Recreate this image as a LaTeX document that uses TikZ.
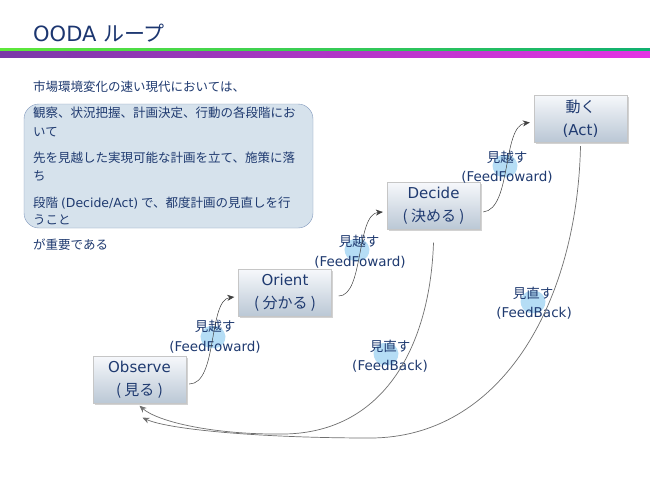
\documentclass[tikz,border=0pt]{standalone}
\usepackage{fontspec}
\setmainfont{DejaVu Sans}
\newfontfamily\jpf{Noto Sans CJK JP}
\newfontfamily\latf{DejaVu Sans}
\usetikzlibrary{shadows,arrows.meta}
\definecolor{txt}{HTML}{1F3A70}
\definecolor{ttl}{HTML}{1C3670}
\definecolor{boxfill}{HTML}{D6E2EC}
\definecolor{boxline}{HTML}{8098BC}
\definecolor{bluish}{HTML}{B5DDF5}
\definecolor{gA}{HTML}{5EE83A}
\definecolor{gB}{HTML}{10B070}
\definecolor{pA}{HTML}{7A38A8}
\definecolor{pB}{HTML}{E433E4}
\definecolor{ntop}{HTML}{F6F8FB}
\definecolor{nbot}{HTML}{BAC7D5}
\definecolor{cur}{HTML}{707070}
\tikzset{
  stepbox/.style={draw=gray!45, top color=ntop, bottom color=nbot, minimum width=93, minimum height=47,
    align=center, text=txt, font=\fontsize{15}{23}\selectfont, inner sep=0pt,
    drop shadow={opacity=0.35, shadow xshift=1.5pt, shadow yshift=-1.5pt}},
  bodytxt/.style={anchor=west, text=txt, font=\fontsize{12.5}{15}\jpf, inner sep=0pt},
  lbl/.style={text=txt, font=\fontsize{13.5}{16}\selectfont, inner sep=0pt},
  blobfill/.style={fill=bluish, rounded corners=5pt},
  ff/.style={draw=black!75, line width=0.5pt, -{Stealth[length=7pt,width=6pt]}},
  fb/.style={draw=cur, line width=0.7pt, -{Stealth[length=7pt,width=6pt]}}
}
\newcommand\blobat[1]{\fill[blobfill] (#1) ++(-14,-1) -- ++(7,-10) -- ++(14,0) -- ++(7,10) -- ++(-6,12) -- ++(-16,0) -- cycle;}
\begin{document}
\begin{tikzpicture}[x=1pt,y=-1pt]
\useasboundingbox[fill=white] (0,0) rectangle (650,487);
% header
\node[anchor=west, text=ttl, font=\fontsize{21}{24}\selectfont, inner sep=0pt] (title) at (33,33) {OODA {\jpf ループ}};
\shade[left color=gA, right color=gB] (0,49) rectangle (650,51.5);
\shade[left color=pA, right color=pB] (0,51.5) rectangle (650,57.3);
% text block
\node[bodytxt] (t0) at (33,87) {市場環境変化の速い現代においては、};
\node[draw=boxline, fill=boxfill, rounded corners=15pt, minimum width=289, minimum height=124, inner sep=0pt] (box) at (168.5,166) {};
\node[bodytxt] (t1) at (33,113) {観察、状況把握、計画決定、行動の各段階にお};
\node[bodytxt] (t2) at (33,132) {いて};
\node[bodytxt] (t3) at (33,158) {先を見越した実現可能な計画を立て、施策に落};
\node[bodytxt] (t4) at (33,176) {ち};
\node[bodytxt] (t5) at (33,203) {段階 {\latf (Decide/Act)} で、都度計画の見直しを行};
\node[bodytxt] (t6) at (33,220) {うこと};
\node[bodytxt] (t7) at (33,245) {が重要である};
% blobs
\blobat{213,337}
\blobat{357,250}
\blobat{505,166}
\blobat{386,354}
\blobat{533,302}
% step boxes
\node[stepbox] (obs) at (139.5,380) {Observe\\{\jpf ( 見る )}};
\node[stepbox] (ori) at (285,293) {Orient\\{\jpf ( 分かる )}};
\node[stepbox] (dec) at (433.5,206) {Decide\\{\jpf ( 決める )}};
\node[stepbox] (act) at (580.5,118.5) {{\jpf 動く}\\(Act)};
% labels
\node[lbl] (l1a) at (215,326) {\jpf 見越す};
\node[lbl] (l1b) at (215,347) {(FeedFoward)};
\node[lbl] (l2a) at (359,241) {\jpf 見越す};
\node[lbl] (l2b) at (360,262) {(FeedFoward)};
\node[lbl] (l3a) at (507,157) {\jpf 見越す};
\node[lbl] (l3b) at (507,177) {(FeedFoward)};
\node[lbl] (l4a) at (390,346) {\jpf 見直す};
\node[lbl] (l4b) at (390,366) {(FeedBack)};
\node[lbl] (l5a) at (533,293) {\jpf 見直す};
\node[lbl] (l5b) at (534,313) {(FeedBack)};
% feed forward
\draw[ff] ([shift={(3pt,-4pt)}]obs.east) .. controls (218,384) and (208,300) .. ([shift={(-4pt,-4pt)}]ori.west);
\draw[ff] ([shift={(7pt,-3pt)}]ori.east) .. controls (364,296) and (356,214) .. ([shift={(-4pt,-6pt)}]dec.west);
\draw[ff] ([shift={(3pt,-6pt)}]dec.east) .. controls (512,209) and (502,126) .. ([shift={(-4pt,-4pt)}]act.west);
% feed back
\draw[fb] ([yshift=-13pt]dec.south) .. controls (430,345) and (385,432) .. (285,434)
  .. controls (215,435) and (158,422) .. ([shift={(0pt,-2pt)}]obs.south);
\draw[fb] ([yshift=-4pt]act.south) .. controls (577,305) and (500,438) .. (370,438)
  .. controls (265,438) and (170,430) .. ([shift={(3pt,-14pt)}]obs.south);
\end{tikzpicture}
\end{document}
